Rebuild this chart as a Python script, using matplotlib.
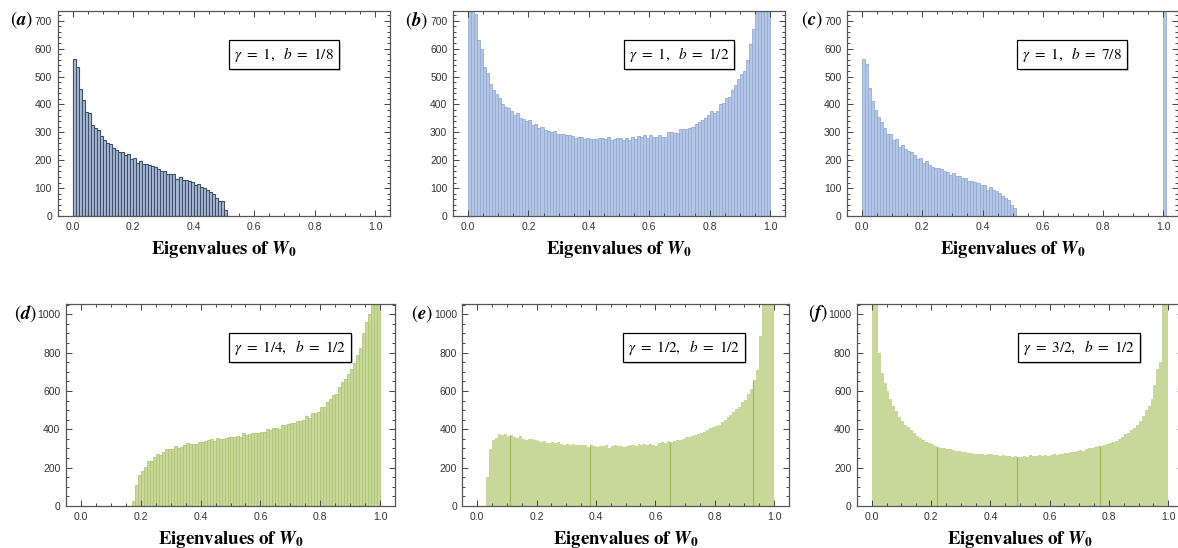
import numpy as np
import matplotlib.pyplot as plt
from matplotlib.ticker import MultipleLocator
import matplotlib.patheffects as pe

plt.rcParams['mathtext.fontset'] = 'stix'
plt.rcParams['font.family'] = ['Liberation Sans', 'DejaVu Sans']

bin_width = 0.01

# histogram counts, bins of width 0.01 starting at *_start
a_start = 0.0
a_counts = [562, 535, 455, 415, 372, 368, 327, 315, 308, 287,
            271, 262, 258, 245, 237, 228, 228, 220, 222, 203,
            208, 190, 196, 186, 186, 182, 180, 175, 167, 163,
            163, 152, 150, 150, 133, 140, 130, 129, 125, 122,
            112, 115, 103, 100, 95, 86, 78, 66, 53, 53, 20]

b_start = 0.0
b_counts = [1500, 900, 725, 630, 600, 535, 512, 475, 450, 437,
            422, 403, 390, 388, 377, 363, 368, 352, 348, 340,
            343, 325, 330, 316, 318, 310, 305, 300, 305, 293,
            293, 293, 290, 292, 288, 280, 285, 282, 276, 280,
            275, 277, 275, 280, 280, 276, 283, 272, 276, 279,
            281, 272, 278, 272, 285, 275, 288, 282, 290, 278,
            290, 284, 285, 292, 285, 285, 300, 300, 298, 298,
            313, 313, 313, 315, 320, 330, 338, 343, 350, 362,
            375, 368, 378, 403, 405, 423, 427, 450, 470, 490,
            510, 520, 560, 615, 670, 760, 900, 1100, 1300, 1600]

c_start = 0.0
c_counts = [562, 545, 458, 412, 380, 355, 337, 315, 293, 293,
            272, 275, 247, 255, 240, 233, 228, 218, 205, 207,
            190, 196, 183, 175, 172, 172, 167, 162, 157, 147,
            153, 145, 142, 137, 137, 127, 125, 122, 120, 112,
            110, 95, 103, 93, 88, 84, 72, 64, 57, 40, 28]
c_spike_start = 1.0
c_spike = [4000]

d_start = 0.17
d_counts = [25, 112, 160, 185, 203, 233, 237, 255, 272, 268,
            280, 295, 295, 295, 315, 305, 310, 318, 330, 325,
            325, 325, 335, 335, 337, 342, 348, 340, 353, 348,
            350, 355, 358, 358, 362, 365, 360, 383, 372, 375,
            380, 383, 383, 388, 385, 403, 398, 405, 408, 402,
            420, 420, 430, 433, 433, 442, 445, 450, 470, 460,
            485, 487, 490, 515, 517, 540, 558, 580, 585, 620,
            645, 660, 690, 715, 745, 790, 826, 900, 960, 1000,
            1100, 1250, 1500]

e_start = 0.03
e_counts = [153, 296, 345, 355, 375, 370, 375, 365, 368, 360,
            355, 365, 352, 345, 350, 348, 342, 340, 335, 340,
            330, 330, 332, 328, 333, 325, 320, 325, 318, 325,
            318, 320, 318, 320, 310, 320, 312, 310, 315, 315,
            317, 305, 315, 318, 312, 315, 310, 312, 318, 318,
            315, 322, 318, 322, 318, 323, 320, 315, 330, 333,
            330, 340, 335, 340, 342, 345, 352, 358, 360, 365,
            370, 375, 380, 385, 395, 405, 410, 417, 425, 440,
            450, 466, 475, 490, 505, 518, 540, 553, 584, 609,
            657, 710, 889, 1100, 1300, 1600, 2000]
e_seams = [0.11, 0.38, 0.65, 0.93]

f_start = 0.0
f_counts = [1800, 1100, 800, 695, 640, 600, 560, 520, 495, 465,
            445, 425, 410, 395, 380, 365, 355, 345, 335, 328,
            322, 315, 310, 305, 300, 298, 295, 290, 285, 285,
            283, 280, 278, 275, 273, 272, 270, 272, 268, 270,
            271, 268, 265, 262, 265, 260, 262, 258, 262, 258,
            257, 262, 258, 265, 262, 262, 268, 262, 266, 260,
            266, 270, 268, 272, 270, 275, 278, 282, 280, 286,
            292, 288, 295, 300, 305, 310, 312, 315, 320, 325,
            328, 332, 340, 350, 362, 378, 380, 395, 405, 425,
            445, 470, 500, 520, 560, 630, 715, 750, 1100, 1800]
f_seams = [0.22, 0.49, 0.77]

W, H = 1178, 548
fig = plt.figure(figsize=(W / 100, H / 100), dpi=100)


def add_axes(x0, x1, top, bottom):
    # x0, x1: pixel positions of 0 and 1 on the x axis
    s = (x1 - x0) * 0.05
    left, right = x0 - s, x1 + s
    return fig.add_axes([left / W, 1 - bottom / H, (right - left) / W, (bottom - top) / H])


def hist(ax, start, counts, face, edge, lw):
    counts = np.array(counts)
    lefts = start + bin_width * np.arange(len(counts))
    ax.bar(lefts, counts, width=bin_width, align='edge', color=face,
           edgecolor=edge, linewidth=lw)
    return lefts, counts


def seams(ax, start, counts, where, color):
    counts = np.array(counts)
    for x in where:
        i = int(round((x - start) / bin_width))
        ax.vlines(x, 0, counts[i], color=color, lw=0.9)


def style(ax, ymax, ymajor, yminor, label, box, lab_x):
    ax.set_xlim(-0.05, 1.05)
    ax.set_ylim(0, ymax)
    ax.xaxis.set_major_locator(MultipleLocator(0.2))
    ax.xaxis.set_minor_locator(MultipleLocator(0.05))
    ax.yaxis.set_major_locator(MultipleLocator(ymajor))
    ax.yaxis.set_minor_locator(MultipleLocator(yminor))
    ax.xaxis.set_major_formatter(plt.FuncFormatter(lambda v, p: '%.1f' % v))
    ax.tick_params(which='both', direction='in', top=True, right=True,
                   color='#444444', labelsize=7.5, labelcolor='#333333', width=0.7)
    ax.tick_params(which='major', length=4, pad=4)
    ax.tick_params(which='minor', length=2)
    for sp in ax.spines.values():
        sp.set_color('#555555')
        sp.set_linewidth(0.9)
    ax.set_xlabel(r'$\mathbf{Eigenvalues\ of\ }\mathbfit{W}_{\mathbf{0}}$', fontsize=13.5, labelpad=5.5)
    ax.text(lab_x, 0.955, label, transform=ax.transAxes, ha='right', va='center', fontsize=13.5)
    t = ax.text(0.68, 0.785, box, transform=ax.transAxes, ha='center', va='center', fontsize=11,
                bbox=dict(boxstyle='square,pad=0.32', fc='white', ec='black', lw=0.9))
    t.get_bbox_patch().set_path_effects([pe.SimplePatchShadow(offset=(1.5, -1.5), alpha=0.25),
                                         pe.Normal()])


blue_a = '#a9bbd8'
blue = '#b3c6e4'
green = '#c8d89b'

# top row
ax = add_axes(72.7, 375, 10.7, 216)
hist(ax, a_start, a_counts, blue_a, '#3f4f6a', 0.8)
style(ax, 736, 100, 20, r'$(\mathbfit{a})$', r'$\gamma\ =\ 1,\ \ b\ =\ 1/8$', -0.075)

ax = add_axes(468, 770, 10.7, 216)
hist(ax, b_start, b_counts, blue, '#93acd6', 0.6)
style(ax, 736, 100, 20, r'$(\mathbfit{b})$', r'$\gamma\ =\ 1,\ \ b\ =\ 1/2$', -0.075)

ax = add_axes(862, 1163.3, 10.7, 216)
hist(ax, c_start, c_counts, blue, '#93acd6', 0.6)
hist(ax, c_spike_start, c_spike, blue, '#93acd6', 0.6)
style(ax, 736, 100, 20, r'$(\mathbfit{c})$', r'$\gamma\ =\ 1,\ \ b\ =\ 7/8$', -0.073)

# bottom row
ax = add_axes(81, 380, 304.3, 506)
hist(ax, d_start, d_counts, green, '#a9c06a', 0.5)
style(ax, 1052, 200, 50, r'$(\mathbfit{d})$', r'$\gamma\ =\ 1/4,\ \ b\ =\ 1/2$', -0.088)

ax = add_axes(477.3, 774, 304.3, 506)
hist(ax, e_start, e_counts, green, 'none', 0)
seams(ax, e_start, e_counts, e_seams, '#9dbb55')
style(ax, 1052, 200, 50, r'$(\mathbfit{e})$', r'$\gamma\ =\ 1/2,\ \ b\ =\ 1/2$', -0.09)

ax = add_axes(871.7, 1168.3, 304.3, 506)
hist(ax, f_start, f_counts, green, 'none', 0)
seams(ax, f_start, f_counts, f_seams, '#9dbb55')
style(ax, 1052, 200, 50, r'$(\mathbfit{f})$', r'$\gamma\ =\ 3/2,\ \ b\ =\ 1/2$', -0.089)

fig.savefig('out.png', dpi=100)
